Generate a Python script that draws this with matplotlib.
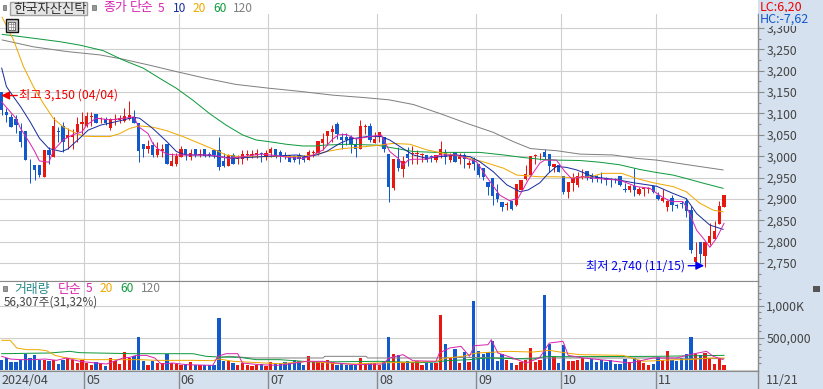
import matplotlib
matplotlib.use("Agg")
import matplotlib.pyplot as plt
from matplotlib.patches import Rectangle
import numpy as np

plt.rcParams['font.family'] = ['Noto Sans CJK KR', 'DejaVu Sans']

W, H = 823, 389
RED = '#e8170f'
BLUE = '#1259cc'
MAG = '#d926b0'
NAVY = '#1a2e9e'
ORG = '#f0a800'
GRN = '#0f9a3e'
GRY = '#808080'
TXT = '#444444'
STRIP = '#d6e1ef'

opens = [3150,3104,3091,3087,3059,3059,2990,2979,2979,2952,3014,2999,3059,3071,3043,3046,3057,3075,3071,3091,
         3098,3087,3086,3065,3085,3085,3083,3086,3091,3078,3028,3017,3026,3003,3013,3028,2978,2983,2999,3017,
         2999,3018,3002,3016,3005,3014,3014,2989,2978,3003,2993,2993,3003,3003,3004,3008,2999,3007,3018,3009,
         3004,3002,3000,3003,2999,2991,3007,3007,3032,3047,3057,3075,3046,3046,3046,3028,3018,3069,3071,3032,
         3046,3046,3005,2926,2993,2969,3005,3005,3005,3003,3003,2999,2991,3003,3009,2991,3009,2993,3004,2979,
         2993,2983,2973,2939,2948,2913,2894,2886,2896,2886,2921,2946,2956,3001,3002,3011,3005,2974,2979,2954,
         2916,2937,2933,2951,2965,2956,2954,2950,2950,2947,2947,2954,2924,2921,2930,2912,2924,2924,2930,2909,
         2895,2881,2902,2886,2890,2895,2874,2752,2799,2767,2796,2806,2842,2882]
closes = [3108,3096,3069,3073,3034,2991,2988,2968,2956,3014,3003,3071,3057,3034,3050,3050,3075,3081,3094,3093,
          3078,3089,3078,3086,3087,3089,3094,3096,3078,3013,3018,3025,3003,3016,3018,2983,2989,3000,3018,3003,
          3007,3003,3005,3000,3003,3003,2974,2978,3003,2983,2995,3005,3005,3005,3007,3005,3008,3018,2999,3004,
          2999,2987,2991,2993,2991,3011,3010,3036,3040,3059,3063,3052,3038,3038,3028,3018,3071,3071,3038,3040,
          3057,3016,2929,2993,2972,2989,2997,3007,3007,3005,2991,2998,3004,3018,2999,3003,2987,3004,2993,2985,
          2983,2956,2952,2929,2907,2901,2882,2888,2876,2935,2944,2958,3000,3003,3004,2999,2977,2983,2964,2916,
          2939,2948,2954,2953,2950,2947,2948,2948,2944,2945,2944,2933,2922,2931,2921,2923,2926,2926,2917,2901,
          2903,2895,2886,2884,2888,2872,2781,2765,2771,2800,2813,2825,2884,2909]
highs = [3150,3112,3098,3096,3078,3059,2993,2979,2979,3014,3021,3091,3069,3081,3065,3063,3091,3104,3104,3104,
         3098,3092,3091,3089,3099,3096,3114,3129,3108,3078,3028,3038,3034,3034,3028,3028,3007,3007,3024,3018,
         3018,3018,3018,3016,3011,3014,3046,3007,3005,3007,3003,3014,3014,3014,3018,3011,3014,3022,3018,3015,
         3011,3002,3003,3007,3003,3015,3015,3036,3054,3059,3073,3079,3054,3054,3050,3042,3085,3075,3077,3057,
         3057,3046,3005,2993,3021,3000,3022,3024,3015,3007,3003,3003,3004,3036,3018,3007,3011,3007,3007,2991,
         2999,2983,2973,2939,2948,2936,2894,2894,2896,2935,2944,2979,3000,3005,3007,3018,3005,2983,2979,2954,
         2939,2960,2964,2969,2965,2960,2956,2964,2952,2948,2948,2954,2937,2933,2972,2927,2929,2927,2930,2917,
         2923,2898,2909,2888,2895,2902,2884,2800,2799,2800,2843,2849,2895,2909]
lows = [3096,3081,3069,3055,3022,2991,2938,2944,2952,2952,2983,2999,3034,3010,3018,3018,3034,3053,3069,3071,
        3077,3077,3073,3061,3073,3077,3081,3085,3078,2987,2999,3007,2999,2999,2999,2983,2978,2978,2999,2991,
        2991,2999,2999,2999,2999,2995,2968,2975,2978,2982,2983,2983,2991,2995,2995,2987,2991,2999,2997,2987,
        2993,2986,2987,2983,2987,2991,2999,3003,3015,3026,3034,3040,3018,3026,3007,2999,3018,3051,3034,3032,
        3034,3011,2894,2921,2966,2952,2978,2983,2983,2987,2987,2987,2987,2995,2983,2987,2986,2983,2972,2973,
        2968,2952,2944,2909,2886,2894,2872,2874,2874,2883,2921,2944,2956,2983,2991,2993,2964,2964,2962,2912,
        2903,2919,2929,2946,2944,2940,2939,2937,2933,2929,2937,2931,2917,2917,2908,2909,2908,2913,2915,2898,
        2894,2873,2872,2878,2880,2859,2774,2746,2750,2740,2792,2806,2842,2882]
volumes = [156,182,115,120,146,250,172,219,146,156,130,156,83,146,172,146,104,146,104,68,
           115,94,52,182,130,89,271,182,208,505,135,68,135,94,104,250,104,89,63,89,
           115,78,78,73,78,78,807,130,130,104,68,104,68,52,63,83,57,115,104,104,
           115,94,146,130,63,208,120,115,115,141,115,63,94,78,63,78,182,83,94,94,
           63,130,510,245,219,104,130,94,135,78,94,94,104,859,406,182,323,104,271,120,
           1073,286,250,271,443,135,250,156,104,73,120,146,339,115,156,1172,406,198,104,380,
           135,135,156,182,125,167,115,156,125,146,89,89,167,115,182,156,104,73,89,198,
           156,286,146,130,182,245,505,250,219,260,172,89,172,73]

ma5_x = [0,3,4,6,7,8,10,11,13,15,17,18,20,23,28,29,31,32,33,35,37,40,44,46,48,51,55,57,61,63.9,66,68.1,69.9,71.3,73,75.1,75.9,78,80.4,82.2,84,85,86.1,87.2,90,92.8,96.3,98.5,100.6,102.7,105.5,107.6,109.4,111.5,114,115,117.5,119.3,120.7,123.2,126,130.9,134.5,137.3,139.8,141.9,144.3,145.4,147.2,148.9,150,151.4,153]
ma5_y = [3127,3089,3065,3030,3011,2989,2986,3014,3038,3050,3057,3073,3089,3085,3092,3069,3053,3030,3018,3005,3003,3003,3003,3000,2995,2999,3005,3003,2997,2995,3003,3015,3038,3050,3051,3040,3042,3046,3050,3011,2995,2979,2991,2993,2993,3003,3003,2995,2987,2952,2909,2896,2902,2944,2984,2991,2991,2964,2948,2952,2948,2944,2929,2925,2905,2894,2894,2874,2827,2804,2787,2808,2843]
ma10_x = [0,1,2.5,4,6,8,10,12.7,14,16.5,18.3,21,24.3,28,29.2,32,35,37,39,43,46,49,55,57,62.4,64.5,66.7,68.8,71.6,73.7,77.3,80.4,82.2,85,87.2,90,92.8,96.3,99.2,101.3,104.1,107,109.8,111.5,114,115.8,117.5,119.6,121.8,125.3,130.9,133.8,138.7,142.2,145,147.2,150,152.8]
ma10_y = [3206,3163,3139,3116,3081,3042,3018,3011,3017,3042,3061,3073,3081,3091,3089,3065,3034,3011,3003,3003,2999,2995,2999,3000,3003,2999,3003,3011,3030,3040,3046,3046,3038,3018,3003,2995,2999,3003,2999,2987,2964,2933,2917,2921,2938,2960,2976,2974,2968,2952,2944,2938,2930,2913,2901,2866,2839,2829]
ma20_x = [0.1,2.5,4.6,6.7,8.8,10.9,13,15.1,17.3,20,22.9,25,27.1,29.2,32,34.9,38.4,41.9,45.4,47.5,50.4,56,63.8,66,68.8,72.3,76.6,80.1,82.9,86.5,90,93.5,98.5,102,106.3,109.1,114,117.5,121,124.6,127.4,131.3,134.5,138,142.2,145,147.9,150.7,152.8]
ma20_y = [3325,3272,3210,3163,3124,3089,3069,3057,3047,3046,3046,3053,3065,3071,3068,3060,3046,3030,3014,3003,2999,2999,3000,3003,3011,3018,3022,3026,3030,3028,3015,3007,2997,2987,2972,2956,2952,2952,2950,2952,2960,2960,2948,2938,2929,2917,2890,2874,2870]
ma60_x = [0.1,3.2,6.7,12.3,16.5,21.5,25.7,30,33.5,37,40.5,44,47.5,51,53.9,56.7,60.3,63.8,66.3,68.4,73,79.4,83.6,87.2,92.1,101.3,106.3,110.5,114,117.5,122.5,126.7,130.9,135.2,138.7,142.2,145,148.6,152.8]
ma60_y = [3285,3281,3276,3268,3260,3247,3225,3206,3182,3159,3131,3100,3073,3050,3038,3034,3028,3024,3024,3026,3028,3026,3018,3011,3009,3009,3003,2997,2993,2991,2990,2986,2980,2969,2962,2956,2948,2937,2925]
ma120_x = [0.1,6.7,13.7,20.8,25.7,31.3,37,43.3,49.6,56.7,63,70,77,82,87.2,92.8,98.5,104.1,108.4,112,114,117.5,122.5,129.5,134.5,138.7,143.6,147.2,152.8]
ma120_y = [3272,3256,3245,3237,3227,3213,3198,3182,3168,3159,3152,3143,3137,3132,3121,3100,3077,3056,3034,3018,3016,3013,3005,3003,2995,2991,2983,2977,2968]

vma5_x = [0,1.8,3.9,6.7,9.2,11.6,13.7,16.5,20,22.2,25.7,27.1,28.5,30.6,32.4,33.8,36.3,39.1,44.7,45.8,47.5,50,51,54.6,58.8,64.5,68,70.9,75.1,80.7,82.1,85,87.1,92,92.7,94.9,97.3,99.1,100.1,103,103.7,105.1,108.3,111.1,113.9,116,118.9,120,123.2,128.8,133,138,142.9,145.7,149.3,150.7,152.8]
vma5_y = [206,164,154,154,164,143,180,128,101,86,180,190,221,221,180,86,101,75,65,206,247,247,101,75,65,128,128,101,75,86,180,232,138,128,258,336,362,206,372,388,466,258,180,101,180,414,440,221,180,138,101,180,180,232,284,206,154]
vma20_x = [0,1.8,3.2,5.3,7.8,9.5,11.3,13.7,18,25,29.2,32.7,40.5,44.7,46.1,49,56,58.8,65.2,70.9,74.4,79.3,87.1,92,94.2,97.7,100.5,104.7,106.9,112.5,116,119.6,122.4,131.6,135.9,143,145.7,150,153]
vma20_y = [456,456,336,310,310,294,221,180,154,154,154,143,143,138,164,128,101,91,128,91,86,101,117,128,180,206,258,273,284,273,299,258,232,221,128,154,154,180,180]
vma60_x = [0,10.2,14.4,16.5,27.8,40.5,43.3,46.1,50.4,53.9,58.8,65.9,80,88.5,92,94.2,99.1,102.6,112.5,115.4,118.1,138.7,153]
vma60_y = [247,258,284,263,247,247,206,195,190,154,154,117,128,107,117,138,154,180,164,206,200,206,221]
vma120_x = [45.5,48.2,53.2,58.9,68.1,68.4,77.2,77.5,92,98.4,107.6,108.3,112.5,118.1,138.7,153]
vma120_y = [180,206,180,180,180,206,206,180,180,190,180,164,180,180,180,169]

price_ticks = [2750,2800,2850,2900,2950,3000,3050,3100,3150,3200,3250,3300]
vol_ticks = [500,1000]
vol_labels = ['500,000','1,000K']
month_pos = [17.5,37.5,56.5,79.5,100.5,118.5,138.5]
month_labels = ['05','06','07','08','09','10','11']

n = len(opens)
x = np.arange(n)
o = np.array(opens, float)
c = np.array(closes, float)
up = c >= o
colors = np.where(up, RED, BLUE)
xlim = (-0.36, 160.2)

fig = plt.figure(figsize=(W/100, H/100), dpi=100, facecolor='white')

def rect(x0, y0, x1, y1, **kw):
    fig.add_artist(Rectangle((x0/W, 1-y1/H), (x1-x0)/W, (y1-y0)/H, transform=fig.transFigure, **kw))

def label(px, py, s, color=TXT, size=8.6, **kw):
    fig.text(px/W, 1-py/H, s, color=color, fontsize=size, va='center', ha=kw.pop('ha', 'left'), **kw)

rect(758, 0, W, H, fc=STRIP, ec='none', zorder=0)
rect(0, 371, W, H, fc=STRIP, ec='none', zorder=0)

ax = fig.add_axes([0, 1-281/H, 758/W, 267/H], facecolor='white')
axv = fig.add_axes([0, 1-371/H, 758/W, 90/H], facecolor='white')

# candles
ax.set_xlim(*xlim)
ax.set_ylim(2708.2, 3332.7)
ax.vlines(x, lows, highs, colors=colors, lw=0.72, zorder=3)
ax.bar(x, np.maximum(np.abs(c-o), 2), bottom=np.minimum(o, c), width=0.7, color=colors, lw=0, zorder=4)
for xs, ys, col in [(ma120_x, ma120_y, GRY), (ma60_x, ma60_y, GRN), (ma20_x, ma20_y, ORG),
                    (ma10_x, ma10_y, NAVY), (ma5_x, ma5_y, MAG)]:
    ax.plot(xs, ys, color=col, lw=0.72, zorder=5, solid_joinstyle='miter')

# volume
axv.set_xlim(*xlim)
axv.set_ylim(-23.4, 1383)
axv.bar(x, volumes, width=0.7, color=colors, lw=0, zorder=3)
axv.axhline(0, color='#cfcfcf', lw=0.8, zorder=1)
for xs, ys, col in [(vma120_x, vma120_y, GRY), (vma60_x, vma60_y, GRN), (vma20_x, vma20_y, ORG), (vma5_x, vma5_y, MAG)]:
    axv.plot(xs, ys, color=col, lw=0.72, zorder=5)

for a in (ax, axv):
    a.set_xticks(month_pos)
    a.tick_params(axis='x', length=0, labelbottom=False)
    a.grid(True, color='#cfcfcf', lw=0.8, zorder=0)
    a.set_axisbelow(True)
    a.yaxis.tick_right()
    a.tick_params(axis='y', length=4.5, width=0.8, color='#8a8a8a', labelcolor=TXT, labelsize=8.8, pad=1.5)
    a.tick_params(axis='y', which='minor', length=2.5, width=0.8, color='#8a8a8a')
    for s in ('left', 'top', 'bottom'):
        a.spines[s].set_visible(False)
    a.spines['right'].set_color('#8a8a8a')
    a.spines['right'].set_linewidth(1)

ax.set_yticks(price_ticks)
ax.set_yticklabels([f'{v:,}' for v in price_ticks])
ax.set_yticks(np.arange(2725, 3325, 50), minor=True)
ax.grid(False, which='minor')
axv.set_yticks(vol_ticks)
axv.set_yticklabels(vol_labels)
axv.set_yticks(np.arange(100, 1400, 100), minor=True)
axv.grid(False, which='minor')

ax.spines['bottom'].set_visible(True)
ax.spines['bottom'].set_color('#8a8a8a')
axv.spines['bottom'].set_visible(True)
axv.spines['bottom'].set_color('#8a8a8a')
axv.spines['top'].set_visible(True)
axv.spines['top'].set_color('#8a8a8a')

# month dividers in bottom strip
for m, s in zip(month_pos, month_labels):
    px = (m-xlim[0])/(xlim[1]-xlim[0])*758
    fig.add_artist(plt.Line2D([px/W, px/W], [0, 18/H], color='#8a8a8a', lw=1))
    label(px+2, 381, s, size=9)
fig.add_artist(plt.Line2D([758/W, 758/W], [0, 18/H], color='#8a8a8a', lw=1))
label(1, 381, '2024/04', size=9)
label(766, 381, '11/21', size=9)

# high and low marks
ax.annotate('', xy=(-0.1, 3142), xytext=(16, 0), textcoords='offset pixels',
            arrowprops=dict(arrowstyle='-|>', color='#ee0000', lw=1, shrinkA=0, shrinkB=0, mutation_scale=12), zorder=7)
ax.annotate('최고 3,150 (04/04)', xy=(-0.1, 3142), xytext=(18, 0), textcoords='offset pixels',
            color='#ee0000', fontsize=8.8, va='center', zorder=7)
ax.annotate('', xy=(148.8, 2744), xytext=(-16, 0), textcoords='offset pixels',
            arrowprops=dict(arrowstyle='-|>', color='#0000ee', lw=1, shrinkA=0, shrinkB=0, mutation_scale=12), zorder=7)
ax.annotate('최저 2,740 (11/15)', xy=(148.8, 2744), xytext=(-19, 0), textcoords='offset pixels',
            color='#0000ee', fontsize=8.8, va='center', ha='right', zorder=7)

# header row
rect(10, 2, 87, 15, fc='#e6e6e6', ec='#a0a0a0', lw=1, zorder=6)
label(13, 8.5, '한국자산신탁', color='#333333', size=9.6, zorder=7)
rect(92, 5, 96, 10, fc='#999999', ec='#777777', lw=0.6, zorder=6)
rect(3, 5, 6, 10, fc='#999999', ec='#777777', lw=0.6, zorder=6)
label(103, 8, '종가', color=MAG, size=9.3)
label(130, 8, '단순', color=MAG, size=9.3)
label(158, 8, '5', color=MAG)
label(173, 8, '10', color=NAVY)
label(193, 8, '20', color=ORG)
label(213, 8, '60', color=GRN)
label(233, 8, '120', color=GRY)

# table icon
rect(5.5, 19.5, 18, 32, fc='#cccccc', ec='#111111', lw=1, zorder=6)
rect(8, 22, 15.5, 29.5, fc='white', ec='#666666', lw=0.8, zorder=6)
rect(10.5, 22, 13, 29.5, fc='none', ec='#888888', lw=0.5, zorder=7)
rect(8, 24.5, 15.5, 27, fc='none', ec='#888888', lw=0.5, zorder=7)

label(760, 7, 'LC:6,20', color='#ee0000', size=9, zorder=7)
fig.text(760/W, 1-19/H, 'HC:-7,62', color=BLUE, fontsize=9, va='center', zorder=7,
         bbox=dict(fc=STRIP, ec='none', pad=0.6))

# volume header
rect(3, 286, 7, 291, fc='#999999', ec='#777777', lw=0.6, zorder=6)
label(14, 289, '거래량', color='#2a8a8a', size=9.3)
label(58, 289, '단순', color=MAG, size=9.3)
label(86, 289, '5', color=MAG)
label(100, 289, '20', color=ORG)
label(120, 289, '60', color=GRN)
label(141, 289, '120', color=GRY)
label(4, 302, '56,307주(31,32%)', color=TXT, size=8.4)
rect(813, 286, 820, 292, fc='#555555', ec='none', zorder=6)

fig.savefig('out.png', dpi=100)
